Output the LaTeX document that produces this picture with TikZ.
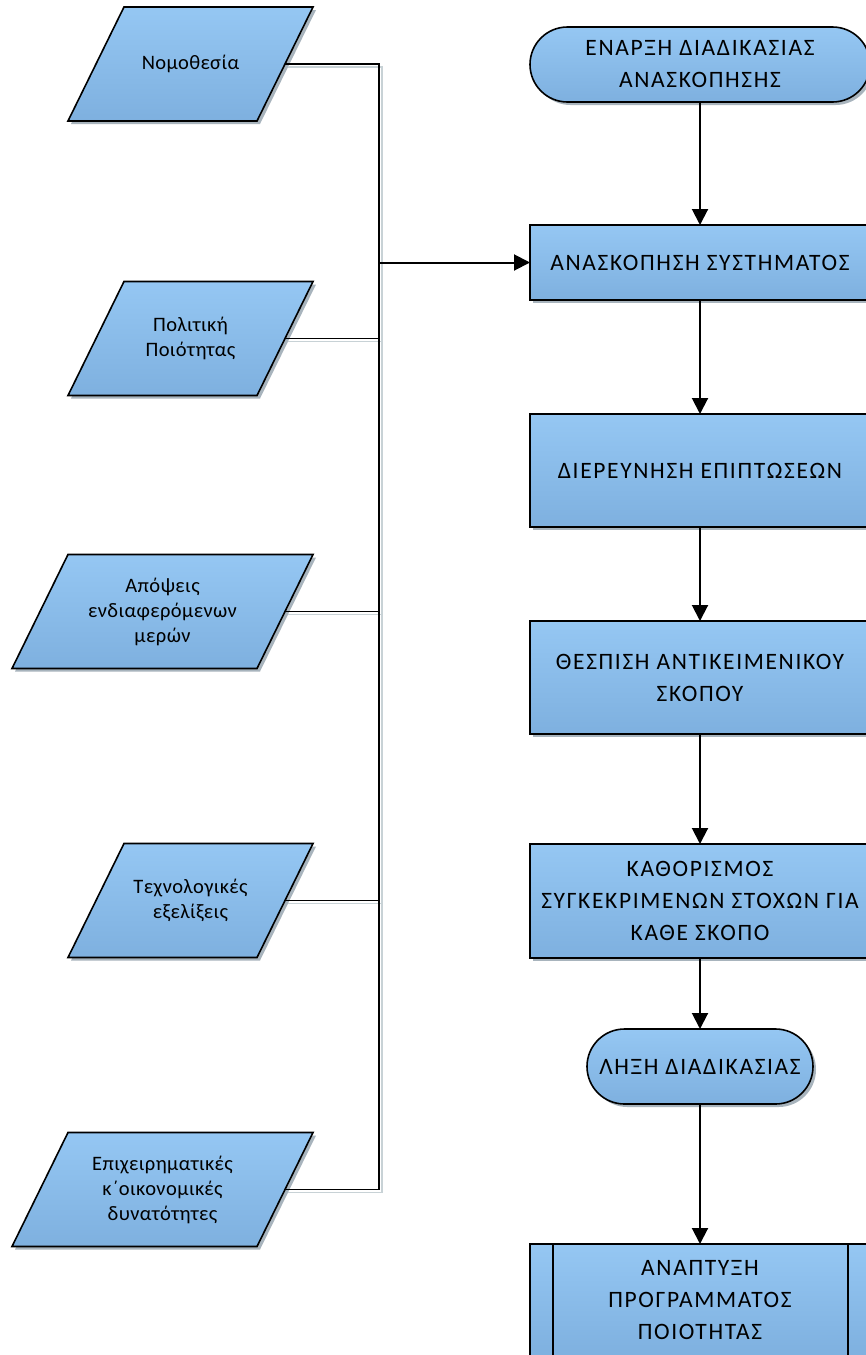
\documentclass[tikz,border=0pt]{standalone}
\usepackage{fontspec}
\setmainfont{Carlito}
\newfontfamily\bigfont{Carlito}[LetterSpace=7]
\newfontfamily\smallfont{Carlito}[LetterSpace=2]
\usetikzlibrary{shadows,arrows.meta,backgrounds}
\definecolor{boxtop}{RGB}{149,199,243}
\definecolor{boxbot}{RGB}{126,176,223}
\definecolor{shadowc}{RGB}{110,130,145}
\definecolor{lineshadow}{RGB}{200,210,214}
\tikzset{
  fillbase/.style={draw=black, line width=1.6pt, top color=boxtop, bottom color=boxbot,
    drop shadow={shadow xshift=3pt, shadow yshift=-3pt, fill=shadowc, opacity=0.6}},
  shapebase/.style={fillbase, outer sep=0pt, inner sep=0pt, align=center},
  paratext/.style={rectangle, minimum height=114pt, minimum width=189pt, outer sep=0pt,
    inner sep=0pt, align=center, font=\smallfont\fontsize{20.5}{25}\selectfont},
  wideparatext/.style={paratext, minimum width=245pt},
  procbox/.style={shapebase, rectangle, minimum width=340pt,
    font=\bigfont\fontsize{23.5}{32}\selectfont},
  termbox/.style={procbox, rounded corners=37.5pt, minimum height=75pt},
  busline/.style={draw=black, line width=1.5pt},
  arr/.style={draw=black, line width=2pt, -{Triangle[width=16pt,length=16pt]}}
}
\newcommand{\paraoutline}[1]{%
  \path[fillbase] ([xshift=28pt]#1.north west) -- ([xshift=28pt]#1.north east)
    -- ([xshift=-28pt]#1.south east) -- ([xshift=-28pt]#1.south west) -- cycle;}
\begin{document}
\begin{tikzpicture}[x=1pt,y=-1pt]
\useasboundingbox (0,0) rectangle (866,1355);
\clip (0,0) rectangle (866,1355);

% left inputs
\node[paratext] (n1) at (190.5,64) {Νομοθεσία};
\node[paratext] (n2) at (190.5,338.5) {Πολιτική\\Ποιότητας};
\node[wideparatext] (n3) at (162.5,611.5) {Απόψεις\\ενδιαφερόμενων\\μερών};
\node[paratext] (n4) at (190.5,900.5) {Τεχνολογικές\\εξελίξεις};
\node[wideparatext] (n5) at (162.5,1189.5) {Επιχειρηματικές\\κ΄οικονομικές\\δυνατότητες};
\begin{pgfonlayer}{background}
  \fill[white] (0,0) rectangle (866,1355);
  \paraoutline{n1}
  \paraoutline{n2}
  \paraoutline{n3}
  \paraoutline{n4}
  \paraoutline{n5}
\end{pgfonlayer}

% right column
\node[termbox] (s1) at (700,64.5) {ΕΝΑΡΞΗ ΔΙΑΔΙΚΑΣΙΑΣ\\ΑΝΑΣΚΟΠΗΣΗΣ};
\node[procbox, minimum height=75pt] (s2) at (700,262.5) {ΑΝΑΣΚΟΠΗΣΗ ΣΥΣΤΗΜΑΤΟΣ};
\node[procbox, minimum height=113pt] (s3) at (700,470.5) {ΔΙΕΡΕΥΝΗΣΗ ΕΠΙΠΤΩΣΕΩΝ};
\node[procbox, minimum height=113pt] (s4) at (700,677.5) {ΘΕΣΠΙΣΗ ΑΝΤΙΚΕΙΜΕΝΙΚΟΥ\\ΣΚΟΠΟΥ};
\node[procbox, minimum height=114pt] (s5) at (700,901) {ΚΑΘΟΡΙΣΜΟΣ\\ΣΥΓΚΕΚΡΙΜΕΝΩΝ ΣΤΟΧΩΝ ΓΙΑ\\ΚΑΘΕ ΣΚΟΠΟ};
\node[termbox, minimum width=226pt] (s6) at (700,1066.5) {ΛΗΞΗ ΔΙΑΔΙΚΑΣΙΑΣ};
\node[procbox, minimum height=113pt] (s7) at (700,1300.5) {ΑΝΑΠΤΥΞΗ\\ΠΡΟΓΡΑΜΜΑΤΟΣ\\ΠΟΙΟΤΗΤΑΣ};
\draw[line width=1.6pt] ([xshift=23pt]s7.north west) -- ([xshift=23pt]s7.south west);
\draw[line width=1.6pt] ([xshift=-22pt]s7.north east) -- ([xshift=-22pt]s7.south east);

% bus
\coordinate (bj) at (379,262.5);
\begin{scope}[transform canvas={xshift=3pt,yshift=-3pt}]
  \draw[draw=lineshadow, line width=1.5pt] (n1.east) -| (bj);
  \draw[draw=lineshadow, line width=1.5pt] (n5.east) -| (bj);
  \draw[draw=lineshadow, line width=1.5pt] (n2.east) -- (n2.east -| bj);
  \draw[draw=lineshadow, line width=1.5pt] (n3.east) -- (n3.east -| bj);
  \draw[draw=lineshadow, line width=1.5pt] (n4.east) -- (n4.east -| bj);
\end{scope}
\draw[busline] (n1.east) -| (bj);
\draw[busline] (n5.east) -| (bj);
\draw[busline] (n2.east) -- (n2.east -| bj);
\draw[busline] (n3.east) -- (n3.east -| bj);
\draw[busline] (n4.east) -- (n4.east -| bj);
\draw[arr] (bj) -- (s2.west);

% flow
\draw[arr] (s1) -- (s2);
\draw[arr] (s2) -- (s3);
\draw[arr] (s3) -- (s4);
\draw[arr] (s4) -- (s5);
\draw[arr] (s5) -- (s6);
\draw[arr] (s6) -- (s7);
\end{tikzpicture}
\end{document}
